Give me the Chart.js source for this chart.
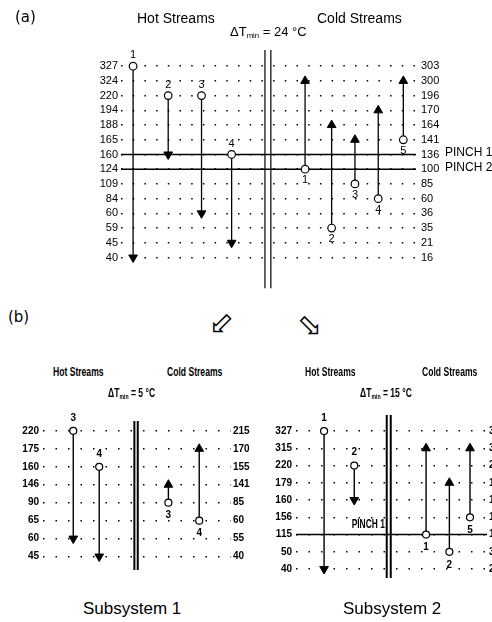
<!DOCTYPE html>
<html>
<head>
<meta charset="utf-8">
<script src="https://cdn.jsdelivr.net/npm/chart.js@4.4.1/dist/chart.umd.min.js"></script>
<style>
  html, body { margin: 0; padding: 0; background: #fff; }
  #page { position: relative; width: 492px; height: 622px; overflow: hidden; background: #fff; }
  canvas { position: absolute; }
  .t { position: absolute; color: #000; white-space: nowrap; line-height: 1; font-family: 'Liberation Sans', Arial, sans-serif; }
  .n { font-weight: bold; font-size: 13px; transform: scaleX(0.66); transform-origin: 0 0; }
  .t sub { font-size: 60%; vertical-align: -0.25em; line-height: 0; }
</style>
</head>
<body>
<div id="page">
  <canvas id="chartA" width="492" height="300" style="left:0;top:0"></canvas>
  <canvas id="chartB1" width="260" height="180" style="left:0;top:400px"></canvas>
  <canvas id="chartB2" width="290" height="190" style="left:250px;top:400px"></canvas>

  <div class="t" style="left:15px;top:10px;font-size:15px;font-family:'DejaVu Sans',sans-serif">(a)</div>
  <div class="t" style="left:137px;top:11px;font-size:14px">Hot Streams</div>
  <div class="t" style="left:317px;top:11px;font-size:14px">Cold Streams</div>
  <div class="t" style="left:230px;top:25px;font-size:13px">ΔT<sub>min</sub> = 24 °C</div>

  <div class="t" style="left:8px;top:310px;font-size:15px;font-family:'DejaVu Sans',sans-serif">(b)</div>
  <div class="t" style="left:209px;top:308px;font-size:30px;font-family:'DejaVu Sans',sans-serif">⬃</div>
  <div class="t" style="left:297px;top:310px;font-size:30px;font-family:'DejaVu Sans',sans-serif">⬂</div>

  <div class="t n" style="left:53px;top:365px">Hot Streams</div>
  <div class="t n" style="left:167px;top:365px">Cold Streams</div>
  <div class="t n" style="left:108px;top:386px">ΔT<sub>min</sub> = 5 °C</div>
  <div class="t n" style="left:305px;top:365px">Hot Streams</div>
  <div class="t n" style="left:422px;top:365px">Cold Streams</div>
  <div class="t n" style="left:360px;top:386px">ΔT<sub>min</sub> = 15 °C</div>

  <div class="t" style="left:83px;top:600px;font-size:17px">Subsystem 1</div>
  <div class="t" style="left:343px;top:600px;font-size:17px">Subsystem 2</div>
</div>

<script>
// (a) full problem, dTmin = 24 C
const hotLevelsA = [327, 324, 220, 194, 188, 165, 160, 124, 109, 84, 60, 59, 45, 40];
const coldLevelsA = [303, 300, 196, 170, 164, 141, 136, 100, 85, 60, 36, 35, 21, 16];
const hotIdsA = ['1', '2', '3', '4'];
const hotSupplyA = [327, 220, 220, 160];
const hotTargetA = [40, 160, 60, 45];
const coldIdsA = ['1', '2', '3', '4', '5'];
const coldSupplyA = [100, 35, 85, 60, 141];
const coldTargetA = [300, 164, 141, 170, 300];
const pinchHotA = [160, 124];
const pinchNamesA = ['PINCH 1', 'PINCH 2'];

// (b) subsystem 1, dTmin = 5 C
const hotLevelsB1 = [220, 175, 160, 146, 90, 65, 60, 45];
const coldLevelsB1 = [215, 170, 155, 141, 85, 60, 55, 40];
const hotIdsB1 = ['3', '4'];
const hotSupplyB1 = [220, 160];
const hotTargetB1 = [60, 45];
const coldIdsB1 = ['3', '4'];
const coldSupplyB1 = [85, 60];
const coldTargetB1 = [141, 170];

// (b) subsystem 2, dTmin = 15 C
const hotLevelsB2 = [327, 315, 220, 179, 160, 156, 115, 50, 40];
const coldLevelsB2 = [312, 300, 205, 164, 145, 141, 100, 35, 25];
const hotIdsB2 = ['1', '2'];
const hotSupplyB2 = [327, 220];
const hotTargetB2 = [40, 160];
const coldIdsB2 = ['1', '2', '5'];
const coldSupplyB2 = [100, 35, 141];
const coldTargetB2 = [300, 164, 300];
const pinchHotB2 = [115];
const pinchNamesB2 = ['PINCH 1'];

// stream numbers above/below the start circles, pinch names next to the lines
const streamTags = {
  id: 'streamTags',
  afterDatasetsDraw(chart, args, opts) {
    const ctx = chart.ctx;
    ctx.save();
    ctx.fillStyle = '#000';
    ctx.textBaseline = 'middle';
    chart.data.datasets.forEach((ds, i) => {
      const pts = chart.getDatasetMeta(i).data;
      if (ds.tag) {
        ctx.font = opts.font;
        ctx.textAlign = 'center';
        ctx.fillText(ds.tag, pts[0].x, pts[0].y + (ds.hot ? -opts.gap : opts.gap));
      }
      if (ds.pinch) {
        ctx.font = opts.pinchFont;
        if (opts.pinchInside) {
          // squeezed label sitting on the line, left of the divider
          ctx.save();
          ctx.translate(chart.scales.x.getPixelForValue(opts.pinchAt), pts[0].y - 10);
          ctx.scale(0.7, 1);
          ctx.textAlign = 'right';
          ctx.fillText(ds.pinch, 0, 0);
          ctx.restore();
        } else {
          ctx.textAlign = 'left';
          ctx.fillText(ds.pinch, chart.chartArea.right + 29, pts[1].y - 2);
        }
      }
    });
    ctx.restore();
  }
};

function panel(id, p) {
  const st = p.style;
  const sets = [];
  const stream = (tag, col, levels, from, to, axis, hot) => ({
    tag, hot, yAxisID: axis, order: 0,
    data: [{ x: col, y: levels.indexOf(from) }, { x: col, y: levels.indexOf(to) }],
    borderColor: '#000', borderWidth: st.lineW, showLine: true,
    pointStyle: ['circle', 'triangle'],
    pointRotation: [0, hot ? 180 : 0],
    pointRadius: [st.circleR, st.arrowR],
    pointBackgroundColor: ['#fff', '#000'],
    pointBorderColor: '#000',
    pointBorderWidth: [1.2, 1]
  });
  p.hotIds.forEach((t, i) => sets.push(stream(t, p.hotCols[i], p.hotLevels, p.hotSupply[i], p.hotTarget[i], 'y', true)));
  p.coldIds.forEach((t, i) => sets.push(stream(t, p.coldCols[i], p.coldLevels, p.coldSupply[i], p.coldTarget[i], 'y2', false)));
  (p.pinchHot || []).forEach((lv, i) => sets.push({
    pinch: p.pinchNames[i], yAxisID: 'y', order: 1,
    data: [{ x: 0, y: p.hotLevels.indexOf(lv) }, { x: 100, y: p.hotLevels.indexOf(lv) }],
    borderColor: '#000', borderWidth: 1.6, pointRadius: 0, showLine: true
  }));
  p.dividers.forEach(c => sets.push({
    yAxisID: 'y', order: 1,
    data: [{ x: c, y: p.yMin }, { x: c, y: p.yMax }],
    borderColor: '#000', borderWidth: st.divW, pointRadius: 0, showLine: true
  }));

  const levelAxis = (levels, position, width, pad, grid) => ({
    type: 'linear', position, reverse: true, min: p.yMin, max: p.yMax,
    afterBuildTicks: ax => { ax.ticks = levels.map((_, i) => ({ value: i })); },
    afterFit: ax => { ax.width = width; },
    ticks: { autoSkip: false, padding: pad, color: '#000', font: st.tickFont, callback: v => levels[v] },
    grid: { display: grid, color: '#000', lineWidth: 1.5, drawTicks: false },
    border: { display: false, dash: st.dash }
  });

  return new Chart(document.getElementById(id), {
    type: 'scatter',
    data: { datasets: sets },
    options: {
      responsive: false,
      animation: false,
      events: [],
      layout: { padding: { left: 0, right: 0, top: p.padTop, bottom: p.padBottom } },
      scales: {
        x: { type: 'linear', min: 0, max: 100, display: false },
        y: levelAxis(p.hotLevels, 'left', p.leftW, p.leftPad, true),
        y2: levelAxis(p.coldLevels, 'right', p.rightW, p.rightPad, false)
      },
      plugins: {
        legend: { display: false },
        tooltip: { enabled: false },
        streamTags: { font: st.tagFont, gap: st.tagGap, pinchFont: st.pinchFont, pinchInside: p.pinchInside, pinchAt: p.pinchAt }
      }
    },
    plugins: [streamTags]
  });
}

const topStyle = {
  lineW: 1.3, divW: 1.2, circleR: 3.8, arrowR: 5, dash: [1.5, 10.2],
  tickFont: { family: "'Liberation Sans', Arial, sans-serif", size: 11 },
  tagFont: "11px 'Liberation Sans', Arial, sans-serif", tagGap: 11,
  pinchFont: "12px 'Liberation Sans', Arial, sans-serif"
};
const subStyle = {
  lineW: 1.4, divW: 2, circleR: 3.5, arrowR: 5, dash: [1.5, 11],
  tickFont: { family: "'Liberation Sans', Arial, sans-serif", size: 10, weight: 'bold' },
  tagFont: "bold 10px 'Liberation Sans', Arial, sans-serif", tagGap: 13,
  pinchFont: "bold 12px 'Liberation Sans', Arial, sans-serif"
};

panel('chartA', {
  style: topStyle,
  hotLevels: hotLevelsA, coldLevels: coldLevelsA,
  hotIds: hotIdsA, hotSupply: hotSupplyA, hotTarget: hotTargetA,
  coldIds: coldIdsA, coldSupply: coldSupplyA, coldTarget: coldTargetA,
  pinchHot: pinchHotA, pinchNames: pinchNamesA,
  hotCols: [4.1, 16.0, 27.3, 37.5], coldCols: [62.4, 71.4, 79.3, 87.2, 95.7], dividers: [48.8, 50.8],
  yMin: -1.1, yMax: 15.1, padTop: 50, padBottom: 10,
  leftW: 121, leftPad: 3, rightW: 76, rightPad: 5
});

panel('chartB1', {
  style: subStyle,
  hotLevels: hotLevelsB1, coldLevels: coldLevelsB1,
  hotIds: hotIdsB1, hotSupply: hotSupplyB1, hotTarget: hotTargetB1,
  coldIds: coldIdsB1, coldSupply: coldSupplyB1, coldTarget: coldTargetB1,
  hotCols: [16.1, 29.9], coldCols: [66.7, 83.1], dividers: [48.6, 50.4],
  yMin: -0.55, yMax: 7.75, padTop: 21, padBottom: 9.5,
  leftW: 43, leftPad: 4, rightW: 29, rightPad: 2
});

panel('chartB2', {
  style: subStyle,
  hotLevels: hotLevelsB2, coldLevels: coldLevelsB2,
  hotIds: hotIdsB2, hotSupply: hotSupplyB2, hotTarget: hotTargetB2,
  coldIds: coldIdsB2, coldSupply: coldSupplyB2, coldTarget: coldTargetB2,
  pinchHot: pinchHotB2, pinchNames: pinchNamesB2, pinchInside: true, pinchAt: 46.5,
  hotCols: [14.7, 30.5], coldCols: [68.1, 80.3, 91.1], dividers: [47.5, 49.6],
  yMin: -0.93, yMax: 8.52, padTop: 15, padBottom: 12,
  leftW: 46, leftPad: 4, rightW: 53, rightPad: 2
});
</script>
</body>
</html>
